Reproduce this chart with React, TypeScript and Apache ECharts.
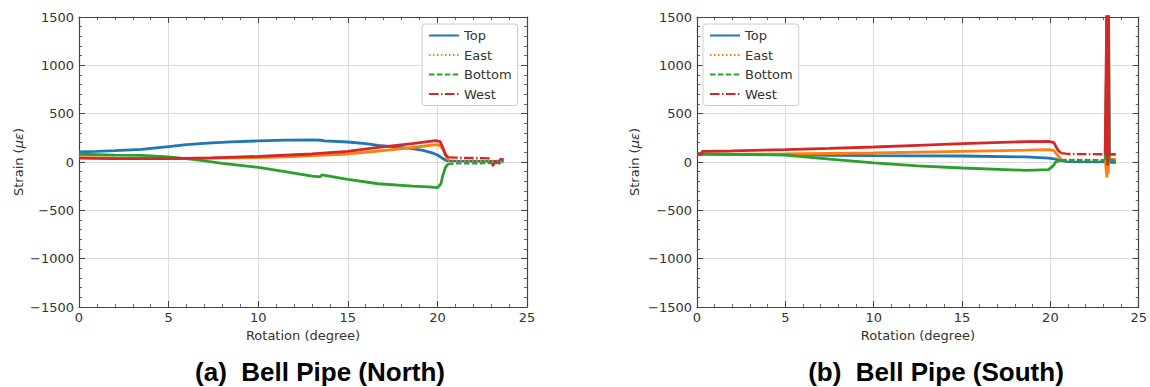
import React, { useEffect, useRef } from "react";
import * as echarts from "echarts";

// ---------- data ----------
const seriesNames = ["Top", "East", "Bottom", "West"];
const xTicksMax = 25;
const yMin = -1500;
const yMax = 1500;

// (a) Bell Pipe (North): [rotation (degree), strain (µε)]
const northTop = [
  [0, 105], [1, 110], [2, 117], [3.5, 130], [5, 160], [6, 180], [7.4, 197], [8.5, 208],
  [10, 218], [11.5, 226], [13, 228], [13.5, 225], [13.7, 218], [15, 207], [16, 190],
  [16.7, 172], [17.5, 158], [18.6, 138], [19.2, 120], [19.7, 95], [20.0, 72], [20.25, 42],
  [20.5, 16], [20.6, 11], [21, 9], [22, 8], [23, 8], [23.7, 8],
];
const northEast = [
  [0, 45], [2, 40], [5, 35], [7.5, 40], [10, 45], [12, 55], [13, 65], [15, 83], [16.7, 112],
  [18.6, 150], [19.9, 180], [20.15, 172], [20.35, 120], [20.5, 55], [20.6, 20], [21, 15],
  [23, 12], [23.7, 12],
];
const northBottom = [
  [0, 80], [2, 72], [3.5, 68], [5, 52], [6.5, 24], [8, -15], [10, -55], [11.5, -100],
  [13, -145], [13.45, -155], [13.55, -132], [15, -180], [16.7, -225], [18.6, -250],
  [19.5, -258], [20, -266], [20.2, -225], [20.3, -140], [20.45, -55], [20.6, -20], [21, -15],
  [23, -12], [23.7, -12],
];
const northWest = [
  [0, 40], [2, 35], [5, 35], [7.4, 42], [10, 58], [13, 83], [15, 110], [16.7, 152],
  [18.6, 190], [19.9, 222], [20.15, 212], [20.3, 150], [20.45, 75], [20.6, 48], [21, 45],
  [22.5, 40], [22.9, 38], [23.0, -10], [23.1, -40], [23.25, 10], [23.4, -25], [23.5, 30],
  [23.7, 30],
];

// (b) Bell Pipe (South)
const southTop = [
  [0, 76], [2, 76], [5, 76], [7.5, 70], [10, 66], [15, 62], [18.6, 52], [19.9, 41],
  [20.3, 30], [20.6, 12], [21, 2], [23.1, 0], [23.17, -10], [23.21, 1700], [23.25, -20],
  [23.29, 1700], [23.33, 0], [23.7, -5],
];
const southEast = [
  [0, 76], [2, 80], [5, 83], [7.5, 88], [10, 93], [15, 110], [18.6, 122], [19.9, 128],
  [20.2, 118], [20.4, 70], [20.6, 30], [21, 24], [23.1, 22], [23.2, -160], [23.23, 1700],
  [23.27, -120], [23.3, 30], [23.7, 25],
];
const southBottom = [
  [0, 86], [2, 80], [5, 72], [7.5, 30], [10, -10], [12.5, -40], [15, -62], [18.6, -86],
  [19.9, -79], [20.15, -40], [20.3, 0], [20.6, 20], [21, 20], [23.1, 20], [23.17, 900],
  [23.21, 1700], [23.25, -40], [23.29, 1700], [23.33, 20], [23.7, 15],
];
const southWest = [
  [0, 76], [0.25, 80], [0.3, 110], [2, 115], [5, 128], [7.5, 140], [10, 155], [12.5, 172],
  [15, 190], [18.6, 210], [19.9, 214], [20.2, 200], [20.4, 130], [20.6, 92], [21, 83],
  [23.1, 80], [23.2, 1700], [23.24, -30], [23.28, 1700], [23.32, 80], [23.7, 78],
];

const northData = [northTop, northEast, northBottom, northWest];
const southData = [southTop, southEast, southBottom, southWest];
const northBreaks = [20.6];
const southBreaks = [20.6, 23.12];

const captions = ["(a)  Bell Pipe (North)", "(b)  Bell Pipe (South)"];

// ---------- styles ----------
const colors = ["#1f77b4", "#ff7f0e", "#2ca02c", "#d62728"];
const dashes: any[] = ["solid", [1.5, 2.5], [5.5, 2.4], [9.6, 2.4, 1.5, 2.4]];
const axisColor = "#444";
const textColor = "#333";
const font = "DejaVu Sans";
const fs = 13;

function splitAt(data: number[][], breaks: number[]) {
  const parts: number[][][] = [];
  let start = 0;
  for (const b of breaks) {
    let k = start;
    for (let i = start; i < data.length; i++) if (data[i][0] <= b) k = i;
    parts.push(data.slice(start, k + 1));
    start = k;
  }
  parts.push(data.slice(start));
  return parts;
}

const minus = (v: number) => (v < 0 ? "\u2212" + Math.abs(v) : String(v));

function buildAxes(gi: number, nameGapY: number) {
  const tick = { show: true, inside: true, length: 6, lineStyle: { color: axisColor, width: 1 } };
  const minor = { show: true, splitNumber: 5, length: 3, lineStyle: { color: axisColor, width: 0.8 } };
  const line = { show: true, onZero: false, lineStyle: { color: axisColor, width: 1.2 } };
  const xs = [
    {
      type: "value", gridIndex: gi, position: "bottom", min: 0, max: xTicksMax, interval: 5,
      axisLine: line, axisTick: tick, minorTick: minor,
      axisLabel: { color: textColor, fontSize: fs, fontFamily: font, margin: 4 },
      splitLine: { show: true, lineStyle: { color: "#dcdcdc", width: 1 } },
      name: "Rotation (degree)", nameLocation: "middle", nameGap: 21,
      nameTextStyle: { color: textColor, fontSize: fs, fontFamily: font },
    },
    {
      type: "value", gridIndex: gi, position: "top", min: 0, max: xTicksMax, interval: 5,
      axisLine: line, axisTick: tick, minorTick: minor,
      axisLabel: { show: false }, splitLine: { show: false },
    },
  ];
  const ys = [
    {
      type: "value", gridIndex: gi, position: "left", min: yMin, max: yMax, interval: 500,
      axisLine: line, axisTick: tick, minorTick: minor,
      axisLabel: { color: textColor, fontSize: fs, fontFamily: font, margin: 5, formatter: minus },
      splitLine: { show: true, lineStyle: { color: "#dcdcdc", width: 1 } },
      name: "Strain ({i|\u03bc\u03b5})", nameLocation: "middle", nameGap: nameGapY,
      nameTextStyle: {
        color: textColor, fontSize: fs, fontFamily: font,
        rich: { i: { fontStyle: "italic", color: textColor, fontSize: fs, fontFamily: font } },
      },
    },
    {
      type: "value", gridIndex: gi, position: "right", min: yMin, max: yMax, interval: 500,
      axisLine: line, axisTick: tick, minorTick: minor,
      axisLabel: { show: false }, splitLine: { show: false },
    },
  ];
  return { xs, ys };
}

function buildSeries(all: number[][][], breaks: number[], xi: number, yi: number) {
  const out: any[] = [];
  all.forEach((data, i) => {
    const parts = splitAt(data, breaks);
    parts.forEach((p, j) => {
      const styled = j === 1;
      out.push({
        type: "line",
        name: styled ? seriesNames[i] : seriesNames[i] + " " + j,
        xAxisIndex: xi,
        yAxisIndex: yi,
        data: p,
        symbol: "none",
        showSymbol: false,
        clip: true,
        silent: true,
        color: colors[i],
        lineStyle: { color: colors[i], width: styled ? 2.3 : 2.8, type: styled ? dashes[i] : "solid" },
      });
    });
  });
  return out;
}

export default function App() {
  const ref = useRef<HTMLDivElement>(null);
  useEffect(() => {
    if (!ref.current) return;
    const chart = echarts.init(ref.current, undefined, { renderer: "svg" });
    const a = buildAxes(0, 54);
    const b = buildAxes(1, 56);
    const legendCommon = {
      orient: "vertical",
      top: 24,
      itemWidth: 30,
      itemHeight: 13,
      itemGap: 6.5,
      padding: [5, 6, 5, 6],
      backgroundColor: "rgba(255,255,255,0.85)",
      borderColor: "#cccccc",
      borderWidth: 1,
      borderRadius: 3,
      itemStyle: { opacity: 0 },
      textStyle: { color: textColor, fontSize: fs, fontFamily: font },
      data: seriesNames,
      selectedMode: false,
    };
    chart.setOption({
      animation: false,
      backgroundColor: "#ffffff",
      grid: [
        { left: 79, top: 17, width: 448, height: 290, containLabel: false },
        { left: 697, top: 17, width: 446, height: 290, containLabel: false },
      ],
      xAxis: [...a.xs, ...b.xs],
      yAxis: [...a.ys, ...b.ys],
      legend: [
        { ...legendCommon, left: 422 },
        { ...legendCommon, left: 703 },
      ],
      series: [
        ...buildSeries(northData, northBreaks, 0, 0),
        ...buildSeries(southData, southBreaks, 2, 2),
      ],
      graphic: [
        {
          type: "text", x: 320, y: 372,
          style: {
            text: captions[0], fill: "#000", font: 'bold 26px "Liberation Sans", Arial, sans-serif',
            align: "center", verticalAlign: "middle", textAlign: "center", textVerticalAlign: "middle",
          },
        },
        {
          type: "text", x: 936, y: 372,
          style: {
            text: captions[1], fill: "#000", font: 'bold 26px "Liberation Sans", Arial, sans-serif',
            align: "center", verticalAlign: "middle", textAlign: "center", textVerticalAlign: "middle",
          },
        },
      ],
    });
    return () => chart.dispose();
  }, []);
  return (
    <div
      ref={ref}
      style={{ position: "fixed", left: 0, top: 0, width: 1150, height: 387, background: "#fff" }}
    />
  );
}
